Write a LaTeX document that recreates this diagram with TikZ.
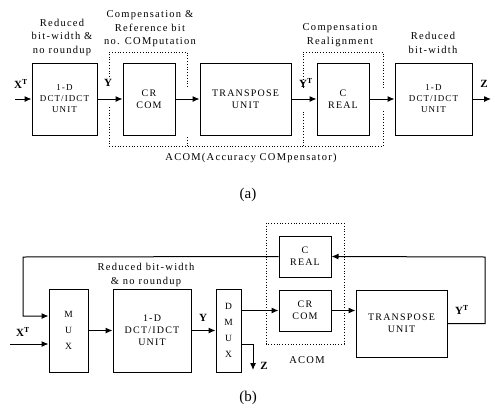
\documentclass[tikz,border=0pt]{standalone}
\usepackage{fontspec}
\newfontfamily\diagfont{Liberation Serif}[LetterSpace=12]
\newfontfamily\tagfont{Liberation Serif}
\usetikzlibrary{arrows.meta,positioning}
\tikzset{
  unit-box/.style={draw=black, line width=1pt, align=center, inner sep=2pt,
    font=\diagfont\fontsize{10}{12}\selectfont},
  unit-small/.style={unit-box, font=\diagfont\fontsize{9}{11}\selectfont},
  unit-stack/.style={unit-box, font=\diagfont\fontsize{9.5}{16}\selectfont},
  unit-note/.style={align=center, inner sep=0pt, font=\diagfont\fontsize{10.5}{13.5}\selectfont},
  unit-sig/.style={inner sep=0pt, font=\tagfont\bfseries\fontsize{11}{12}\selectfont},
  unit-wire/.style={-{Latex[length=7pt,width=6pt]}, line width=1pt},
  acom-frame/.style={dotted, line width=0.8pt},
  panel-tag/.style={inner sep=0pt, font=\tagfont\fontsize{15}{17}\selectfont}
}

\begin{document}
\begin{tikzpicture}[>=Latex, x=1pt, y=-1pt]
  \useasboundingbox (0,0) rectangle (495,410);

  % (a) straight pipeline
  \node[unit-small, minimum width=65pt, minimum height=72pt] (dcta) at (64.5,99) {1-D\\DCT/IDCT\\UNIT};
  \node[unit-box, minimum width=52pt, minimum height=72pt] (crcoma) at (149,99) {CR\\COM};
  \node[unit-box, minimum width=91pt, minimum height=72pt] (transa) at (245.5,99) {TRANSPOSE\\UNIT};
  \node[unit-box, minimum width=52pt, minimum height=72pt] (creala) at (343,99) {C\\REAL};
  \node[unit-small, minimum width=77pt, minimum height=72pt] (dctc) at (433.5,99) {1-D\\DCT/IDCT\\UNIT};
  \coordinate (xina) at (15,99);
  \coordinate (zouta) at (491,99);

  \draw[unit-wire] (xina) -- (dcta.west);
  \draw[unit-wire] (dcta.east) -- (crcoma.west);
  \draw[unit-wire] (crcoma.east) -- (transa.west);
  \draw[unit-wire] (transa.east) -- (creala.west);
  \draw[unit-wire] (creala.east) -- (dctc.west);
  \draw[unit-wire] (dctc.east) -- (zouta);

  \node[unit-sig] (xta) at (21,84) {X\textsuperscript{T}};
  \node[unit-sig] (ya) at (108,83) {Y};
  \node[unit-sig] (yta) at (306,83) {Y\textsuperscript{T}};
  \node[unit-sig] (za) at (484,84) {Z};

  \node[unit-note] (notea1) at (62,37) {Reduced\\bit-width \&\\no roundup};
  \node[unit-note] (notea2) at (150,29) {Compensation \&\\Reference bit\\no. COMputation};
  \node[unit-note] (notea3) at (340,35) {Compensation\\Realignment};
  \node[unit-note] (notea4) at (433,43) {Reduced\\bit-width};

  % dotted ACOM outline
  \draw[acom-frame] (109,77) -- (109,52) -- (187,52) -- (187,88);
  \draw[acom-frame] (109,107) -- (109,146) -- (383,146) -- (383,110);
  \draw[acom-frame] (187,137) -- (187,146);
  \draw[acom-frame] (303,146) -- (303,110);
  \draw[acom-frame] (303,88) -- (303,52) -- (383,52) -- (383,88);
  \node[unit-note] (acoma) at (251,158) {ACOM(Accuracy COMpensator)};

  \node[panel-tag] (taga) at (248,195) {(a)};

  % (b) shared 1-D unit with feedback
  \node[unit-stack, minimum width=39pt, minimum height=83pt] (mux) at (68.5,330.5) {M\\U\\X};
  \node[unit-box, minimum width=78pt, minimum height=83pt] (dctb) at (152,330.5) {1-D\\DCT/IDCT\\UNIT};
  \node[unit-stack, minimum width=25pt, minimum height=83pt, inner sep=0pt] (dmux) at (228.5,330.5) {D\\M\\U\\X};
  \node[unit-box, minimum width=52pt, minimum height=41pt] (crealb) at (305,256.5) {C\\REAL};
  \node[unit-box, minimum width=52pt, minimum height=41pt] (crcomb) at (305,310.5) {CR\\COM};
  \node[unit-box, minimum width=91pt, minimum height=67pt] (transb) at (401.5,323.5) {TRANSPOSE\\UNIT};
  \coordinate (xinb) at (10,344);
  \coordinate (fbl) at (23,257);
  \coordinate (fbr) at (485,257);
  \coordinate (zoutb) at (253,370);

  \draw[unit-wire] (xinb) -- (xinb -| mux.west);
  \draw[unit-wire] (crealb.west) -- (fbl) |- ([yshift=14.5pt]mux.west);
  \draw[unit-wire] (mux.east) -- (dctb.west);
  \draw[unit-wire] (dctb.east) -- (dmux.west);
  \draw[unit-wire] (dmux.east |- crcomb.west) -- (crcomb.west);
  \draw[unit-wire] ([yshift=-13.5pt]dmux.east) -| (zoutb);
  \draw[unit-wire] (crcomb.east) -- (crcomb.east -| transb.west);
  \draw[unit-wire] (transb.east) -| (fbr) -- (crealb.east);

  \node[unit-sig] (xtb) at (23,332) {X\textsuperscript{T}};
  \node[unit-sig] (yb) at (203,318) {Y};
  \node[unit-sig] (zb) at (264,366) {Z};
  \node[unit-sig] (ytb) at (462,310) {Y\textsuperscript{T}};

  \node[unit-note] (noteb) at (146,275) {Reduced bit-width\\\& no roundup};
  \draw[acom-frame] (266,223) rectangle (344,344);
  \node[unit-note] (acomb) at (307,360) {ACOM};

  \node[panel-tag] (tagb) at (248,398) {(b)};
\end{tikzpicture}
\end{document}
